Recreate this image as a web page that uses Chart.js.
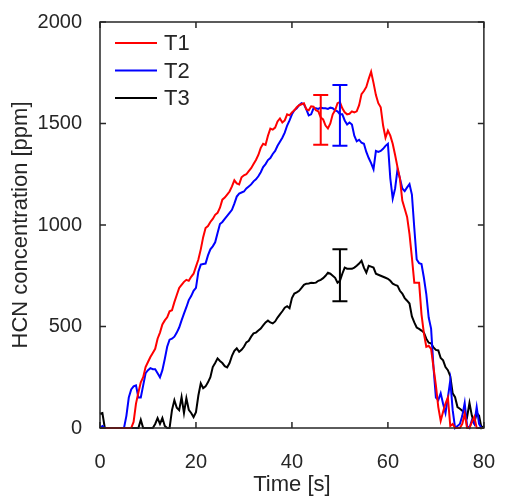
<!DOCTYPE html>
<html>
<head>
<meta charset="utf-8">
<script src="https://cdn.jsdelivr.net/npm/chart.js@4"></script>
<style>
html, body { margin: 0; padding: 0; background: #fff; }
#wrap { width: 509px; height: 496px; position: relative; }
</style>
</head>
<body>
<div id="wrap"><canvas id="chart"></canvas></div>
<script>
// time axis [s], half-second steps
const times = [
  0,0.5,1,1.5,2,2.5,3,3.5,4,4.5,5,5.5,6,6.5,7,7.5,8,8.5,9,9.5,
  10,10.5,11,11.5,12,12.5,13,13.5,14,14.5,15,15.5,16,16.5,17,17.5,18,18.5,19,19.5,
  20,20.5,21,21.5,22,22.5,23,23.5,24,24.5,25,25.5,26,26.5,27,27.5,28,28.5,29,29.5,
  30,30.5,31,31.5,32,32.5,33,33.5,34,34.5,35,35.5,36,36.5,37,37.5,38,38.5,39,39.5,
  40,40.5,41,41.5,42,42.5,43,43.5,44,44.5,45,45.5,46,46.5,47,47.5,48,48.5,49,49.5,
  50,50.5,51,51.5,52,52.5,53,53.5,54,54.5,55,55.5,56,56.5,57,57.5,58,58.5,59,59.5,
  60,60.5,61,61.5,62,62.5,63,63.5,64,64.5,65,65.5,66,66.5,67,67.5,68,68.5,69,69.5,
  70,70.5,71,71.5,72,72.5,73,73.5,74,74.5,75,75.5,76,76.5,77,77.5,78,78.5,79,79.5,
  80];

// HCN concentration [ppm]
const t1 = [
  0,0,0,0,0,0,0,0,0,0,0,0,0,0,30,120,175,225,250,300,
  325,350,370,390,440,470,510,530,545,575,580,620,655,690,705,720,730,725,745,760,
  795,830,880,940,985,995,1015,1030,1050,1060,1085,1125,1135,1150,1165,1190,1220,1205,1200,1235,
  1245,1250,1265,1280,1300,1320,1345,1380,1400,1395,1440,1475,1470,1480,1510,1525,1505,1515,1545,1540,
  1555,1565,1580,1590,1595,1600,1570,1565,1585,1583,1565,1560,1530,1520,1490,1476,1500,1545,1565,1600,
  1605,1575,1555,1545,1548,1560,1555,1560,1590,1645,1660,1680,1720,1755,1700,1640,1600,1580,1490,1430,
  1465,1440,1400,1345,1285,1230,1120,1080,1040,955,840,716,716,716,560,466,400,405,390,299,
  210,103,35,80,120,150,10,20,0,0,0,20,70,0,0,30,55,0,0,0,
  0];
const t2 = [
  0,10,0,0,0,0,0,0,0,0,0,60,150,190,205,210,150,150,210,270,
  285,295,290,290,270,250,285,340,400,435,440,450,470,495,530,563,595,630,650,676,
  690,770,805,808,810,850,880,895,915,960,1005,1015,1030,1045,1060,1075,1105,1140,1155,1160,
  1165,1180,1190,1200,1215,1225,1240,1260,1285,1300,1320,1330,1350,1365,1390,1410,1430,1455,1490,1515,
  1545,1565,1575,1590,1600,1595,1570,1540,1545,1575,1575,1572,1578,1575,1575,1572,1578,1575,1565,1560,
  1545,1545,1515,1495,1505,1495,1440,1412,1420,1405,1400,1360,1330,1305,1275,1365,1360,1365,1375,1390,
  1400,1230,1130,1180,1274,1230,1180,1167,1185,1201,1150,985,830,812,808,740,660,544,490,299,
  150,137,171,120,74,150,235,88,0,10,20,60,123,10,0,39,20,103,20,0,
  0];
const t3 = [
  70,74,0,0,0,0,0,0,0,0,0,0,0,0,0,0,0,40,0,0,
  0,0,0,20,49,20,49,10,0,0,88,137,100,88,152,74,147,90,74,54,
  78,160,220,196,205,225,250,300,320,343,330,320,305,299,320,355,380,392,375,385,
  400,422,430,450,466,470,480,490,505,520,529,520,515,525,544,560,575,593,600,590,
  640,662,668,676,690,705,711,712,715,714,716,725,730,738,750,765,760,750,740,716,
  725,760,790,785,784,784,790,799,810,824,790,765,799,795,790,760,755,750,745,740,
  735,725,711,705,701,676,662,640,627,613,550,520,495,488,480,470,440,420,417,397,
  385,382,345,333,300,285,255,171,152,103,95,85,74,54,123,60,25,74,60,0,
  10];

const seriesNames = ['T1', 'T2', 'T3'];
const seriesColors = ['#ff0000', '#0000ff', '#000000'];

// error bars: time, lower, upper
const errTimes = [46, 50, 50];
const errLow = [1395, 1390, 625];
const errHigh = [1640, 1690, 880];

const xTicks = [0, 20, 40, 60, 80];
const yTicks = [0, 500, 1000, 1500, 2000];

const FONT = "'Liberation Sans', Arial, sans-serif";
const TEXT = '#262626';

const overlay = {
  id: 'overlay',
  afterDatasetsDraw(chart) {
    const ctx = chart.ctx;
    const xs = chart.scales.x, ys = chart.scales.y;
    const a = chart.chartArea;
    ctx.save();

    // error bars
    ctx.lineWidth = 2;
    errTimes.forEach((t, i) => {
      const px = xs.getPixelForValue(t);
      const top = ys.getPixelForValue(errHigh[i]);
      const bot = ys.getPixelForValue(errLow[i]);
      const cap = 7.5;
      ctx.strokeStyle = seriesColors[i];
      ctx.beginPath();
      ctx.moveTo(px, top); ctx.lineTo(px, bot);
      ctx.moveTo(px - cap, top); ctx.lineTo(px + cap, top);
      ctx.moveTo(px - cap, bot); ctx.lineTo(px + cap, bot);
      ctx.stroke();
    });

    // box and inward ticks
    ctx.strokeStyle = '#262626';
    ctx.lineWidth = 1.5;
    ctx.strokeRect(a.left, a.top, a.right - a.left, a.bottom - a.top);
    const tl = 6;
    ctx.beginPath();
    xTicks.forEach(v => {
      const px = xs.getPixelForValue(v);
      ctx.moveTo(px, a.bottom); ctx.lineTo(px, a.bottom - tl);
      ctx.moveTo(px, a.top); ctx.lineTo(px, a.top + tl);
    });
    yTicks.forEach(v => {
      const py = ys.getPixelForValue(v);
      ctx.moveTo(a.left, py); ctx.lineTo(a.left + tl, py);
      ctx.moveTo(a.right, py); ctx.lineTo(a.right - tl, py);
    });
    ctx.stroke();

    // legend inside upper left
    ctx.font = '22px ' + FONT;
    ctx.textBaseline = 'middle';
    ctx.fillStyle = TEXT;
    chart.data.datasets.forEach((ds, i) => {
      const y = a.top + 21 + i * 27.5;
      ctx.strokeStyle = ds.borderColor;
      ctx.lineWidth = 2;
      ctx.beginPath();
      ctx.moveTo(a.left + 15, y); ctx.lineTo(a.left + 57, y);
      ctx.stroke();
      ctx.fillText(ds.label, a.left + 64, y + 1);
    });
    ctx.restore();
  }
};

const datasets = [t1, t2, t3].map((vals, i) => ({
  label: seriesNames[i],
  data: times.map((t, j) => ({ x: t, y: vals[j] })),
  borderColor: seriesColors[i],
  borderWidth: 2,
  pointRadius: 0,
  tension: 0,
  fill: false,
  clip: { left: 1, top: 1, right: 1, bottom: 3 }
}));

new Chart(document.getElementById('chart'), {
  type: 'line',
  data: { datasets },
  options: {
    responsive: true,
    maintainAspectRatio: false,
    animation: false,
    layout: { padding: { top: 20, right: 12, left: 0, bottom: 0 } },
    plugins: { legend: { display: false }, tooltip: { enabled: false } },
    scales: {
      x: {
        type: 'linear', min: 0, max: 80,
        afterBuildTicks: s => { s.ticks = xTicks.map(v => ({ value: v })); },
        afterFit: s => { s.height = 68; },
        grid: { display: false },
        border: { display: false },
        ticks: { color: TEXT, font: { family: FONT, size: 20 }, padding: 14, maxRotation: 0,
                 callback: v => String(v) },
        title: { display: true, text: 'Time [s]', color: TEXT,
                 font: { family: FONT, size: 22, lineHeight: 1 }, padding: 0 }
      },
      y: {
        min: 0, max: 2000,
        afterBuildTicks: s => { s.ticks = yTicks.map(v => ({ value: v })); },
        afterFit: s => { s.width = 100; },
        grid: { display: false },
        border: { display: false },
        ticks: { color: TEXT, font: { family: FONT, size: 20 }, padding: 10,
                 callback: v => String(v) },
        title: { display: true, text: 'HCN concentration [ppm]', color: TEXT,
                 font: { family: FONT, size: 22 }, padding: { top: 8, bottom: 0 } }
      }
    }
  },
  plugins: [overlay]
});
</script>
</body>
</html>
